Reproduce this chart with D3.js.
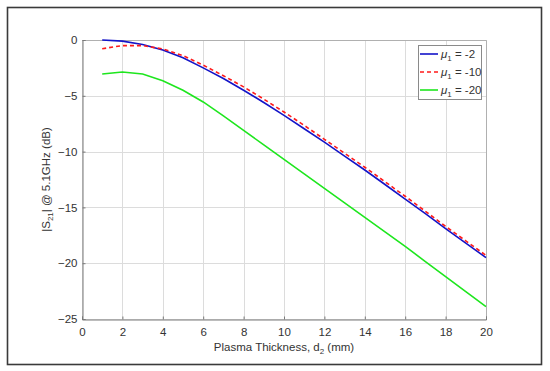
<!DOCTYPE html>
<html>
<head>
<meta charset="utf-8">
<script src="https://cdn.jsdelivr.net/npm/d3@7"></script>
<style>
  body { margin: 0; background: #fff; }
  svg { font-family: "Liberation Sans", Arial, sans-serif; }
</style>
</head>
<body>
<div id="plot"></div>
<script>
// Plasma thickness d2 (mm)
const thickness = [1, 2, 3, 4, 5, 6, 7, 8, 9, 10, 11, 12, 13, 14, 15, 16, 17, 18, 19, 20];
// |S21| in dB for each mu1
const mu2 = [0.0, -0.1, -0.4, -0.9, -1.6, -2.5, -3.45, -4.5, -5.6, -6.75, -7.95, -9.15, -10.4, -11.65, -12.95, -14.25, -15.55, -16.9, -18.2, -19.5];
const mu10 = [-0.78, -0.5, -0.5, -0.8, -1.4, -2.25, -3.2, -4.2, -5.3, -6.45, -7.65, -8.9, -10.15, -11.4, -12.7, -14.0, -15.35, -16.7, -18.0, -19.3];
const mu20 = [-3.05, -2.87, -3.05, -3.65, -4.5, -5.55, -6.8, -8.1, -9.4, -10.7, -12.0, -13.3, -14.6, -15.9, -17.2, -18.5, -19.85, -21.2, -22.55, -23.9];
const seriesNames = ['-2', '-10', '-20'];
const xTicks = [0, 2, 4, 6, 8, 10, 12, 14, 16, 18, 20];
const yTicks = [0, -5, -10, -15, -20, -25];

let
w = 550, h = 371,
padL = 82, padR = 486, padT = 40, padB = 319,
axisColor = '#333333',
gridColor = '#dcdcdc',

xScale = d3.scaleLinear().domain([0, 20]).range([padL, padR]),
yScale = d3.scaleLinear().domain([-25, 0]).range([padB, padT]),

svg = d3.select('#plot').append('svg').attr('width', w).attr('height', h);

// Outer figure frame
svg.append('rect').
attr('x', 7.5).attr('y', 7.5).attr('width', 534).attr('height', 357).
attr('fill', '#fff').attr('stroke', '#3a3a3a').attr('stroke-width', 1.6);

// Grid lines
svg.append('g').selectAll('line').data(xTicks).enter().append('line').
attr('x1', d => Math.round(xScale(d)) + 0.5).attr('x2', d => Math.round(xScale(d)) + 0.5).
attr('y1', padT).attr('y2', padB).attr('stroke', gridColor);
svg.append('g').selectAll('line').data(yTicks).enter().append('line').
attr('y1', d => Math.round(yScale(d)) + 0.5).attr('y2', d => Math.round(yScale(d)) + 0.5).
attr('x1', padL).attr('x2', padR).attr('stroke', gridColor);

// Top and right box edges
svg.append('path').
attr('d', `M${padL},${padT + 0.5}H${padR + 0.5}V${padB}`).
attr('fill', 'none').attr('stroke', '#b0b0b0');

// Axes
const xAxis = svg.append('g').attr('transform', `translate(0,${padB + 0.5})`).
call(d3.axisBottom(xScale).tickValues(xTicks).tickSize(-3).tickPadding(8));
const yAxis = svg.append('g').attr('transform', `translate(${padL + 0.5},0)`).
call(d3.axisLeft(yScale).tickValues(yTicks).tickSize(-3).tickPadding(5));
[xAxis, yAxis].forEach(a => {
  a.select('.domain').attr('stroke', '#7a7a7a');
  a.selectAll('.tick line').attr('stroke', '#7a7a7a');
  a.selectAll('.tick text').attr('fill', axisColor).style('font-size', '11.5px');
});

// Curves (straight segments between sampled thicknesses)
const line = d3.line().x((d, i) => xScale(thickness[i])).y(d => yScale(d));
const series = [
  { vals: mu2, color: '#1414c8', dash: null, width: 1.6 },
  { vals: mu10, color: '#ff1a1a', dash: '4,3', width: 1.6 },
  { vals: mu20, color: '#1ee61e', dash: null, width: 1.6 }];
series.forEach(s => {
  svg.append('path').datum(s.vals).attr('d', line).
  attr('fill', 'none').attr('stroke', s.color).attr('stroke-width', s.width).
  attr('stroke-dasharray', s.dash);
});

// Legend
const legend = svg.append('g').attr('transform', 'translate(418,45)');
legend.append('rect').attr('x', 0.5).attr('y', 0.5).attr('width', 63).attr('height', 54).
attr('fill', '#fff').attr('stroke', '#8a8a8a');
series.forEach((s, i) => {
  const y = 9 + i * 18;
  legend.append('line').attr('x1', 2).attr('x2', 20).attr('y1', y).attr('y2', y).
  attr('stroke', s.color).attr('stroke-width', s.width).attr('stroke-dasharray', s.dash);
  const t = legend.append('text').attr('x', 23).attr('y', y + 4).
  attr('fill', axisColor).style('font-size', '11.5px');
  t.append('tspan').attr('font-style', 'italic').text('\u03bc');
  t.append('tspan').attr('dy', 3).style('font-size', '8px').text('1');
  t.append('tspan').attr('dy', -3).text(' = ' + seriesNames[i]);
});

// Axis labels
const xl = svg.append('text').attr('x', (padL + padR) / 2).attr('y', 351).
attr('text-anchor', 'middle').attr('fill', axisColor).style('font-size', '11.5px');
xl.append('tspan').text('Plasma Thickness, d');
xl.append('tspan').attr('dy', 3).style('font-size', '8px').text('2');
xl.append('tspan').attr('dy', -3).text(' (mm)');

const yl = svg.append('text').
attr('transform', `translate(50,${(padT + padB) / 2}) rotate(-90)`).
attr('text-anchor', 'middle').attr('fill', axisColor).style('font-size', '11.5px');
yl.append('tspan').text('|S');
yl.append('tspan').attr('dy', 3).style('font-size', '8px').text('21');
yl.append('tspan').attr('dy', -3).text('| @ 5.1GHz (dB)');
</script>
</body>
</html>
